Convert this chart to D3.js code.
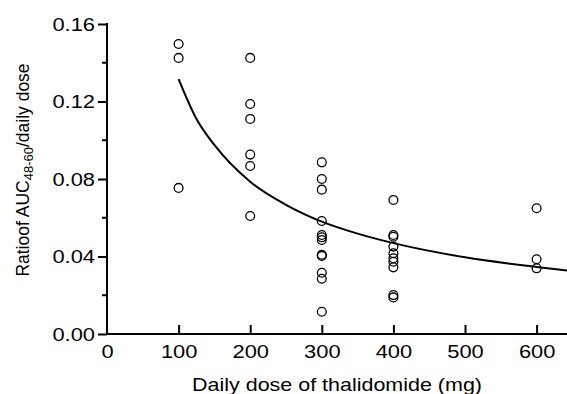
<!DOCTYPE html>
<html>
<head>
<meta charset="utf-8">
<script src="https://cdn.jsdelivr.net/npm/d3@7"></script>
<style>
  body { margin: 0; background: #fff; }
  svg { display: block; font-family: "Liberation Sans", Arial, Helvetica, sans-serif; }
</style>
</head>
<body>
<svg id="chart" width="567" height="394"></svg>
<script>
// Observed points: daily dose (mg) and ratio of AUC48-60 / daily dose
const doses = [
  100, 100, 100,
  200, 200, 200, 200, 200, 200,
  300, 300, 300, 300, 300, 300, 300, 300, 300, 300, 300, 300,
  400, 400, 400, 400, 400, 400, 400, 400, 400, 400,
  600, 600, 600
];
const ratios = [
  0.1497, 0.1425, 0.0754,
  0.1425, 0.1187, 0.1110, 0.0926, 0.0867, 0.0609,
  0.0886, 0.0800, 0.0745, 0.0583, 0.0511, 0.0499, 0.0485, 0.0409, 0.0403, 0.0316, 0.0285, 0.0115,
  0.0692, 0.0511, 0.0502, 0.0451, 0.0417, 0.0391, 0.0373, 0.0344, 0.0201, 0.0189,
  0.0649, 0.0386, 0.0339
];

// Fitted curve
const curveDose = [100, 125, 150, 200, 250, 300, 350, 400, 500, 600, 650];
const curveRatio = [0.1316, 0.111, 0.0976, 0.0786, 0.0667, 0.0580, 0.0518, 0.0469, 0.0396, 0.0346, 0.0325];

const xTicks = [0, 100, 200, 300, 400, 500, 600];
const yTicks = [0, 0.04, 0.08, 0.12, 0.16];
const yMinor = [0.02, 0.06, 0.10, 0.14];

const svg = d3.select("#chart");
const plotLeft = 107, plotTop = 24, plotBottom = 334;

const x = d3.scaleLinear().domain([0, 100]).range([plotLeft, plotLeft + 71.6]);
const y = d3.scaleLinear().domain([0, 0.16]).range([plotBottom, plotTop]);

const axisStroke = 2;

// the original lettering is a bit wider than Liberation Sans
function widen(sel, k) {
  sel.each(function () {
    const w = this.getComputedTextLength();
    d3.select(this).attr("textLength", w * k).attr("lengthAdjust", "spacingAndGlyphs");
  });
}

// y axis
const yAxis = svg.append("g").attr("transform", `translate(${plotLeft},0)`)
  .call(d3.axisLeft(y).tickValues(yTicks).tickFormat(d3.format(".2f")).tickSize(9).tickPadding(3));
yAxis.select(".domain").remove();
yAxis.selectAll(".tick line").attr("stroke", "#000").attr("stroke-width", axisStroke);
yAxis.selectAll(".tick text").attr("font-size", 19).attr("fill", "#000")
  .attr("font-family", "Liberation Sans, Arial, sans-serif")
  .call(widen, 1.15);

svg.append("g").attr("transform", `translate(${plotLeft},0)`)
  .selectAll("line").data(yMinor).join("line")
  .attr("x1", -5).attr("x2", 0)
  .attr("y1", d => y(d)).attr("y2", d => y(d))
  .attr("stroke", "#000").attr("stroke-width", axisStroke);

svg.append("line")
  .attr("x1", plotLeft).attr("x2", plotLeft).attr("y1", plotTop - 1).attr("y2", plotBottom + 1)
  .attr("stroke", "#000").attr("stroke-width", axisStroke);

// x axis, ticks pointing up
const xAxis = svg.append("g").attr("transform", `translate(0,${plotBottom})`)
  .call(d3.axisBottom(x).tickValues(xTicks).tickFormat(d3.format("d")).tickSize(0).tickPadding(11));
xAxis.select(".domain").remove();
xAxis.selectAll(".tick text").attr("font-size", 19).attr("fill", "#000")
  .attr("font-family", "Liberation Sans, Arial, sans-serif")
  .call(widen, 1.15);
xAxis.selectAll(".tick").filter(d => d > 0).append("line")
  .attr("y1", 0).attr("y2", -9)
  .attr("stroke", "#000").attr("stroke-width", axisStroke);

svg.append("line")
  .attr("x1", plotLeft - 1).attr("x2", 567).attr("y1", plotBottom).attr("y2", plotBottom)
  .attr("stroke", "#000").attr("stroke-width", axisStroke);

// fitted curve
const line = d3.line()
  .x(i => x(curveDose[i]))
  .y(i => y(curveRatio[i]))
  .curve(d3.curveMonotoneX);
svg.append("path")
  .attr("d", line(d3.range(curveDose.length)))
  .attr("fill", "none").attr("stroke", "#000").attr("stroke-width", 2);

// points
svg.append("g").selectAll("circle").data(d3.range(doses.length)).join("circle")
  .attr("cx", i => x(doses[i]))
  .attr("cy", i => y(ratios[i]))
  .attr("r", 4.4)
  .attr("fill", "none").attr("stroke", "#000").attr("stroke-width", 1.3);

// titles
svg.append("text")
  .attr("x", 337).attr("y", 391)
  .attr("text-anchor", "middle").attr("font-size", 19)
  .text("Daily dose of thalidomide (mg)")
  .call(widen, 1.13);

const yt = svg.append("text")
  .attr("transform", "translate(29,170) rotate(-90)")
  .attr("text-anchor", "middle").attr("font-size", 17.5);
yt.append("tspan").text("Ratioof AUC");
yt.append("tspan").attr("font-size", 13).attr("dy", 4).text("48-60");
yt.append("tspan").attr("dy", -4).text("/daily dose");
</script>
</body>
</html>
